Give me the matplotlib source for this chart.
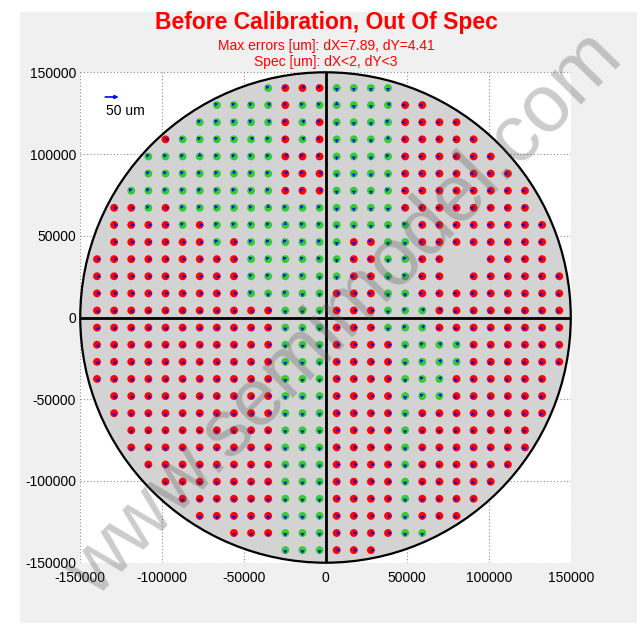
import numpy as np
import matplotlib.pyplot as plt
from matplotlib.patches import Circle, Rectangle

plt.rcParams['font.family'] = ['Liberation Sans', 'DejaVu Sans']
plt.rcParams['axes.unicode_minus'] = False

# --- die map, one entry per row from top to bottom, split at the y axis ---
# R = out of spec, G = in spec, . = not measured
first_col = [10, 7, 6, 4, 3, 3, 2, 1, 1, 1, 0, 0, 0, 0, 0, 0, 0, 0, 1, 1, 2, 2, 3, 4, 5, 6, 8, 11]
die_color = [
    "GRRR GGGG",
    "GGGGRGG GGGGRR",
    "GGGGGRGR GGGGRRRR",
    "RGGGGGGRGR GGGGRRRRR",
    "GGGGGGGGRRR GGGGRRRRRR",
    "GGGGGGGGRRR GGGGRRRRRRR",
    "GGGGGGGGGRRR GGGGRRRRRRRR",
    "RRGRGGGGGGGGG GGGGRRRRRRRR",
    "RRRRGRGGGGGGG GGGGGRRRRRRRR",
    "RRRRRRGRGGGGG GRRGGRRRRRRRR",
    "RRRRRRRRRGGGGG GRRGGRR..RRRR",
    "RRRRRRRRRGGGGG GRRGGRR.RRRRRR",
    "RRRRRRRRRGGGGG RRRGGRRRRRRRRR",
    "RRRRRRRRRRRGGG RRRGGGRRRRRRRR",
    "RRRRRRRRRRRGGG RRRGGGRRRRRRRR",
    "RRRRRRRRRRRGGG RRRRGGGGRRRRRR",
    "RRRRRRRRRRRGGG RRRRGGGGRRRRRR",
    "RRRRRRRRRRRGGG RRRRGGGRRRRRR",
    "RRRRRRRRRRGGG RRRRGGGRRRRRR",
    "RRRRRRRRRRGGG RRRRGRRRRRRRR",
    "RRRRRRRRRGGG RRRRGRRRRRRR",
    "RRRRRRRRRGGG RRRRGRRRRRRR",
    "RRRRRRRRGGG RRRRGRRRRRR",
    "RRRRRRRGGG RRRRGRRRRR",
    "RRRRRRGGG RRRRGRRRR",
    "RRRRRGGG RRRRGRRR",
    "RRRGGG RRRRGG",
    "GGG RRR",
]
# error arrow direction: r e u q l z d c = E NE N NW W SW S SE
die_dir = [
    "qqeq dddd",
    "qqqeqqq uddell",
    "qqqqeqeq dddqllll",
    "rqqqqeqqeq dddulllll",
    "qqquqqqqeqq dddqllllll",
    "qqqqquqqeqe ddddlllllll",
    "qqqqqqqqqeqe dddqllllllll",
    "rrqrqqqqquqqq ddddlllllllq",
    "rrrrqrqqqquqq ddddqllllllll",
    "rrrrrrqrqqqqq ddqddllllllll",
    "rrrrrrrrrqqqqq dlldqll..llll",
    "rrrrrrrrrqqqqd dlldqll.llllll",
    "rrrrrrrrrqdqdd rrlddllllllzzz",
    "ccccccccccrddd rrrdqeezzzzzzz",
    "cccccccccccddd rrrdqezzzzzzzz",
    "ccccccccccrddd rrrrdqeezzzzzz",
    "ccccccccccrddd rrrrdqeezzzzzz",
    "cccccccccccddd rrrrdqezzzzzz",
    "cccccccccrddd rrrrdqezzzzzz",
    "ddddddddcrddd rrrrddzzzzzzz",
    "dddddddddddd rrrrdddzzzzz",
    "dddddddddddd rrrrdddzzzzz",
    "ddddddddddd rrrrddzzzzz",
    "dddddddddd rrrrddzzzz",
    "ddddddddd rrrrddzzz",
    "dddddddd rrrrddzz",
    "dddddd rrrrdd",
    "ddd rrr",
]
ticks = [-150000, -100000, -50000, 0, 50000, 100000, 150000]
title = "Before Calibration, Out Of Spec"
subtitle = "Max errors [um]: dX=7.89, dY=4.41\nSpec [um]: dX<2, dY<3"

# die grid (um)
pitch = 10470
x0 = 1600 - 13.5 * pitch
y0 = -950 + 13.5 * pitch
wafer_r = 150000
arrow_len = 2300
angles = dict(r=0, e=45, u=90, q=135, l=180, z=225, d=270, c=315)
colors = dict(R='#ff0000', G='#32cd32')

xs, ys, cs, us, vs = [], [], [], [], []
for row, (k0, cstr, dstr) in enumerate(zip(first_col, die_color, die_dir)):
    cstr = cstr.replace(' ', '')
    dstr = dstr.replace(' ', '')
    for i, (c, d) in enumerate(zip(cstr, dstr)):
        if c == '.':
            continue
        xs.append(x0 + (k0 + i) * pitch)
        ys.append(y0 - row * pitch)
        cs.append(colors[c])
        a = np.deg2rad(angles[d])
        us.append(arrow_len * np.cos(a))
        vs.append(arrow_len * np.sin(a))

fig = plt.figure(figsize=(6.37, 6.30), dpi=100, facecolor='white')
fig.patches.append(Rectangle((20 / 637, 7 / 630), 617 / 637, 611 / 630,
                             transform=fig.transFigure, facecolor='#f0f0f0',
                             edgecolor='none', zorder=-10))
ax = fig.add_axes([80.25 / 637, 67.3 / 630, 490.5 / 637, 490.4 / 630])
ax.set_facecolor('white')
ax.set_xlim(-150000, 150000)
ax.set_ylim(-150000, 150000)
for s in ax.spines.values():
    s.set_visible(False)
ax.set_xticks(ticks)
ax.set_yticks(ticks)
ax.set_xticklabels([str(t) for t in ticks])
ax.set_yticklabels([str(t) for t in ticks])
ax.tick_params(length=0, labelsize=10, pad=3)
ax.tick_params(axis='x', pad=6)
ax.grid(True, linestyle=(0, (1, 2)), color='#8a8a8a', lw=0.8)
ax.set_axisbelow(True)

ax.add_patch(Circle((0, 0), wafer_r, facecolor='#d3d3d3', edgecolor='black',
                    lw=1.6, zorder=1, clip_on=False))
ax.plot([-wafer_r, wafer_r], [0, 0], color='black', lw=2.0, zorder=2,
        solid_capstyle='butt', clip_on=False)
ax.plot([0, 0], [-wafer_r, wafer_r], color='black', lw=2.0, zorder=2,
        solid_capstyle='butt', clip_on=False)

ax.scatter(xs, ys, c=cs, s=32, linewidths=0, zorder=3)
ax.quiver(xs, ys, us, vs, angles='xy', scale_units='xy', scale=1,
          color='#0000ff', width=0.0034, headwidth=2.6, headlength=2.4,
          headaxislength=2.2, pivot='tail', zorder=4)

# scale arrow
ax.annotate('', xy=(-126500, 134900), xytext=(-134700, 134900),
            arrowprops=dict(arrowstyle='-|>', color='#0000ff', lw=1.2,
                            mutation_scale=5, shrinkA=0, shrinkB=0))
ax.text(-134300, 126500, '50 um', fontsize=10, ha='left', va='center')

fig.text(326 / 637, 1 - 22 / 630, title, color='#ff0000', fontsize=16.5,
         fontweight='bold', ha='center', va='center')
fig.text(326 / 637, 1 - 54 / 630, subtitle, color='#ff0000', fontsize=10,
         ha='center', va='center', linespacing=1.15)

fig.text(345 / 637, 1 - 315 / 630, 'www.semimodel.com', fontsize=58,
         rotation=45.5, color='#555555', alpha=0.3, ha='center', va='center',
         zorder=10)

fig.savefig('out.png', dpi=100, facecolor=fig.get_facecolor())
